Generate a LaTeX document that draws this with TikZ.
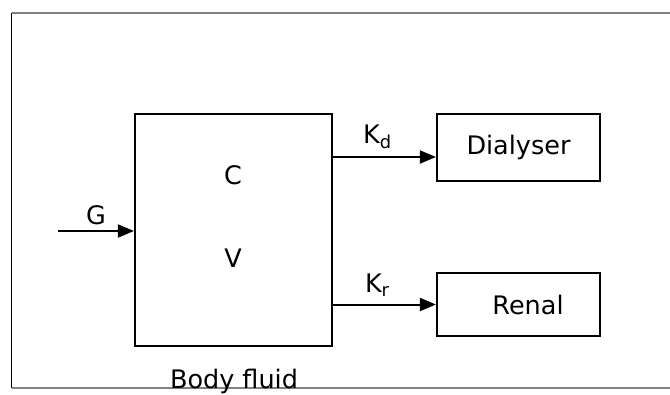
\documentclass[tikz,border=0pt]{standalone}
\usepackage{fontspec}
\setmainfont{DejaVu Sans}
\usetikzlibrary{arrows.meta}

\begin{document}
\begin{tikzpicture}[x=1pt,y=-1pt,font=\fontsize{25.5}{30}\selectfont]
	\tikzstyle{block} = [rectangle,draw=black,line width=2.2pt,inner sep=0pt]
	\tikzstyle{flow} = [-{Triangle[length=16pt,width=13pt]},line width=2pt]
	\useasboundingbox (0,0) rectangle (670,394);
	% frame
	\draw[line width=1.6pt,black!50] (670,13) -- (11.5,13);
	\draw[line width=1.6pt] (11.5,13) -- (11.5,388);
	\draw[line width=1.6pt,black!50] (11.5,388) -- (670,388);
	% body fluid compartment
	\node[block,minimum width=197pt,minimum height=232pt] (body) at (233.5,230) {};
	\node (conc) at (233,175) {C};
	\node (vol) at (233,258) {V};
	\node[anchor=base] (bodylabel) at (234,388) {Body fluid};
	% clearance routes
	\node[block,minimum width=163pt,minimum height=67pt] (dialyser) at (518.5,147.5) {Dialyser\hspace{7pt}};
	\node[block,minimum width=163pt,minimum height=63pt] (renal) at (518.5,304.5) {\hspace{19pt}Renal};
	% generation
	\coordinate (gin) at (58,231);
	\draw[flow] (gin) -- node[above,yshift=2pt]{G} (body.west |- gin);
	% removal
	\draw[flow] (body.east |- 0,157) -- node[pos=.43,above,yshift=4pt]{K\textsubscript{d}} (dialyser.west |- 0,157);
	\draw[flow] (body.east |- renal.west) -- node[pos=.43,above,yshift=4pt]{K\textsubscript{r}} (renal.west);
\end{tikzpicture}
\end{document}
